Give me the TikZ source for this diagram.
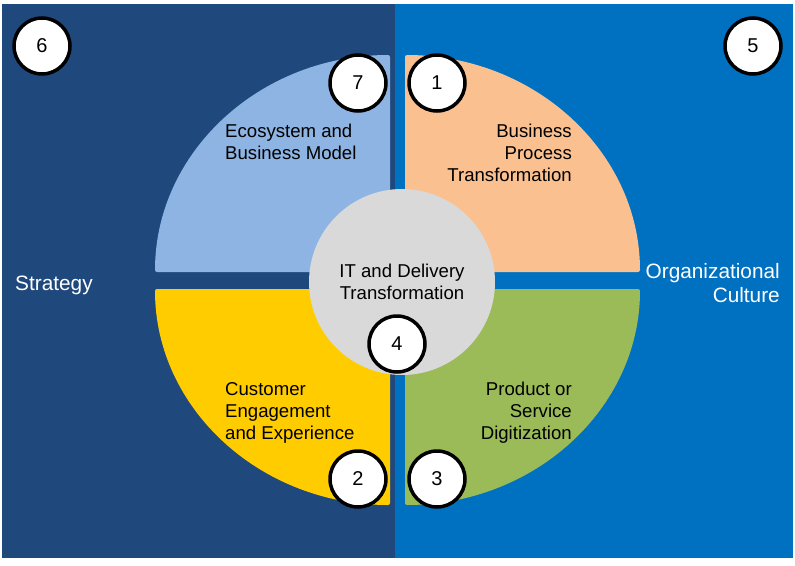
\documentclass[tikz,border=0pt]{standalone}
\usepackage{fontspec}
\setmainfont{Liberation Sans}
\definecolor{strat}{RGB}{31,73,125}
\definecolor{orgc}{RGB}{0,112,192}
\definecolor{ecoq}{RGB}{141,180,226}
\definecolor{bpq}{RGB}{250,192,144}
\definecolor{custq}{RGB}{255,204,0}
\definecolor{prodq}{RGB}{155,187,89}
\definecolor{itq}{RGB}{217,217,217}
\begin{document}
\begin{tikzpicture}[x=1pt,y=-1pt]
	\tikzset{
		num/.style={circle,draw=black,line width=3.5pt,fill=white,minimum size=56pt,inner sep=0pt,font=\fontsize{20}{24}\selectfont},
		lbl/.style={font=\fontsize{18.6}{22}\selectfont,inner sep=0pt},
		side/.style={font=\fontsize{20.8}{24}\selectfont,text=white,inner sep=0pt},
		% quarter of the ellipse
		quad/.style={rounded corners=2pt},
	}
	\useasboundingbox (0,0) rectangle (795,565);
	\fill[white] (0,0) rectangle (795,565);
	% two halves
	\fill[strat] (2,4) rectangle (395,558);
	\fill[orgc] (395,4) rectangle (793,558);
	% four quarters
	\fill[ecoq,quad] (390,272)--(155,272) arc[start angle=180,end angle=90,x radius=235pt,y radius=217pt]--cycle;
	\fill[bpq,quad] (405,272)--(405,55) arc[start angle=90,end angle=0,x radius=235pt,y radius=217pt]--cycle;
	\fill[custq,quad] (390,289)--(155,289) arc[start angle=180,end angle=270,x radius=235pt,y radius=216pt]--cycle;
	\fill[prodq,quad] (405,289)--(640,289) arc[start angle=0,end angle=-90,x radius=235pt,y radius=216pt]--cycle;
	% centre
	\node[circle,fill=itq,minimum size=186pt,inner sep=0pt,lbl,align=center] (it) at (402,282) {IT and Delivery\\Transformation};
	%
	\node[lbl,align=left,anchor=north west] (eco) at (225,124) {Ecosystem and\\Business Model};
	\node[lbl,align=right,anchor=north east] (bp) at (572,124) {Business\\Process\\Transformation};
	\node[lbl,align=left,anchor=north west] (cust) at (225,382) {Customer\\Engagement\\and Experience};
	\node[lbl,align=right,anchor=north east] (prod) at (572,382) {Product or\\Service\\Digitization};
	\node[side,anchor=base west] (strat) at (15,290) {Strategy};
	\node[side,align=right,anchor=north east] (cult) at (780,263) {Organizational\\Culture};
	% numbers
	\node[num] (n1) at (437,83) {1};
	\node[num] (n2) at (358,479) {2};
	\node[num] (n3) at (437,479) {3};
	\node[num] (n4) at (397,344) {4};
	\node[num] (n5) at (753,46) {5};
	\node[num] (n6) at (42,46) {6};
	\node[num] (n7) at (358,83) {7};
\end{tikzpicture}
\end{document}
